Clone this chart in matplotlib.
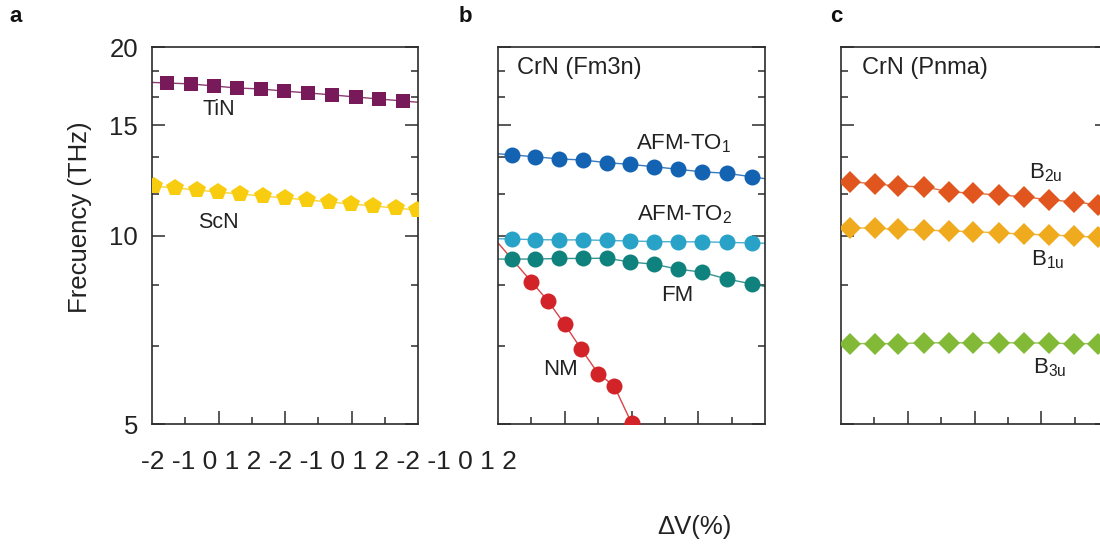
import matplotlib.pyplot as plt
import numpy as np
from matplotlib.ticker import NullFormatter

plt.rcParams['font.family'] = ['Liberation Sans', 'DejaVu Sans']
plt.rcParams['mathtext.fontset'] = 'custom'
plt.rcParams['mathtext.rm'] = 'Liberation Sans'
plt.rcParams['mathtext.it'] = 'Liberation Sans:italic'

# values, frequencies in THz, x is dV in %
# panel a
x_tin = [-1.77, -1.41, -1.07, -0.72, -0.36, -0.02, 0.35, 0.71, 1.07, 1.41, 1.77]
tin = [17.52, 17.46, 17.33, 17.20, 17.14, 17.01, 16.89, 16.77, 16.64, 16.52, 16.40]
x_scn = [-1.97, -1.65, -1.32, -1.01, -0.68, -0.33, 0.0, 0.33, 0.66, 0.99, 1.32, 1.67, 1.98]
scn = [11.99, 11.91, 11.82, 11.73, 11.65, 11.56, 11.48, 11.40, 11.31, 11.23, 11.15, 11.06, 10.98]

# panel b, CrN (Fm3n)
x_fm3n = [-1.79, -1.45, -1.08, -0.73, -0.37, -0.02, 0.33, 0.69, 1.05, 1.43, 1.80]
afm_to1 = [13.45, 13.36, 13.25, 13.20, 13.07, 12.99, 12.88, 12.76, 12.64, 12.57, 12.41]
afm_to2 = [9.87, 9.85, 9.84, 9.84, 9.82, 9.80, 9.78, 9.77, 9.77, 9.75, 9.73]
fm = [9.17, 9.17, 9.19, 9.19, 9.20, 9.07, 9.00, 8.84, 8.74, 8.52, 8.37]
x_nm = [-1.5, -1.25, -1.0, -0.75, -0.5, -0.26, 0.0]
nm = [8.44, 7.86, 7.21, 6.58, 6.02, 5.75, 5.02]

# panel c, CrN (Pnma)
x_pnma = [-1.87, -1.49, -1.14, -0.76, -0.38, -0.02, 0.36, 0.74, 1.12, 1.49, 1.85]
b2u = [12.19, 12.09, 11.99, 11.96, 11.75, 11.68, 11.61, 11.53, 11.40, 11.32, 11.19]
b1u = [10.29, 10.27, 10.23, 10.20, 10.17, 10.14, 10.10, 10.05, 10.02, 9.98, 9.93]
b3u = [6.72, 6.72, 6.72, 6.74, 6.74, 6.74, 6.74, 6.74, 6.73, 6.72, 6.72]

y_major = [5, 10, 15, 20]
y_minor = [6.67, 8.33, 11.67, 13.33, 16.67, 18.33]
x_labels = ['-2', '-1', '0', '1', '2'] * 3

dark = '#2b2b2b'


def ext_line(x, y, lo=-2.3, hi=2.3):
    # join the points and run the end segments out past the frame
    x = np.asarray(x)
    ly = np.log(y)
    s0 = (ly[1] - ly[0]) / (x[1] - x[0])
    s1 = (ly[-1] - ly[-2]) / (x[-1] - x[-2])
    xs = np.concatenate([[lo], x, [hi]])
    ys = np.concatenate([[ly[0] + s0 * (lo - x[0])], ly, [ly[-1] + s1 * (hi - x[-1])]])
    return xs, np.exp(ys)


def series(ax, x, y, color, marker, ms):
    lx, ly = ext_line(x, y)
    ax.plot(lx, ly, '-', color=color, lw=1.0, alpha=0.85, zorder=2)
    ax.plot(x, y, linestyle='none', marker=marker, ms=ms, color=color,
            markeredgewidth=0, zorder=3, clip_on=True)


def setup(ax, show_y=False):
    ax.set_yscale('log')
    ax.set_xlim(-2, 2)
    ax.set_ylim(5, 20)
    ax.set_yticks(y_major)
    ax.set_yticks(y_minor, minor=True)
    ax.yaxis.set_minor_formatter(NullFormatter())
    ax.set_xticks([-1, 0, 1])
    ax.set_xticks([-1.5, -0.5, 0.5, 1.5], minor=True)
    ax.tick_params(which='both', direction='in', left=True, right=True, top=False,
                   labelbottom=False, width=1.1, color=dark)
    ax.tick_params(which='major', length=9.5)
    ax.tick_params(which='minor', length=5)
    for s in ax.spines.values():
        s.set_linewidth(1.2)
        s.set_color(dark)
    if show_y:
        ax.set_yticklabels([str(v) for v in y_major])
        ax.tick_params(axis='y', which='major', labelsize=18.5, pad=10, labelcolor='#222222')
    else:
        ax.tick_params(axis='y', labelleft=False)


fig = plt.figure(figsize=(11, 5.44), dpi=100)
W = 267 / 1100
H = 377 / 544
B = 120 / 544
ax_a = fig.add_axes([152 / 1100, B, 266 / 1100, H])
ax_b = fig.add_axes([498 / 1100, B, W, H])
ax_c = fig.add_axes([841 / 1100, B, W, H])

setup(ax_a, show_y=True)
setup(ax_b)
setup(ax_c)

# panel a
series(ax_a, x_tin, tin, '#781a5a', 's', 10)
series(ax_a, x_scn, scn, '#f9cd0f', 'p', 13)
ax_a.text(-1.0, 15.9, 'TiN', fontsize=15.5, ha='center', va='center', color='#222222')
ax_a.text(-1.0, 10.5, 'ScN', fontsize=15.5, ha='center', va='center', color='#222222')
fig.text(80 / 1100, 1 - 217 / 544, 'Frecuency (THz)', fontsize=18.5, rotation=90,
         ha='center', va='center', color='#222222')

# panel b
series(ax_b, x_fm3n, afm_to1, '#1463b2', 'o', 11.5)
series(ax_b, x_fm3n, afm_to2, '#29a2c8', 'o', 11.5)
series(ax_b, x_fm3n, fm, '#0f827d', 'o', 11.5)
series(ax_b, x_nm, nm, '#d22328', 'o', 11.5)
ax_b.text(-1.72, 18.5, 'CrN (Fm3n)', fontsize=17, ha='left', va='center', color='#222222')
ax_b.text(0.78, 14.0, r'AFM-TO$_1$', fontsize=16, ha='center', va='center', color='#222222')
ax_b.text(0.80, 10.8, r'AFM-TO$_2$', fontsize=16, ha='center', va='center', color='#222222')
ax_b.text(0.68, 8.03, 'FM', fontsize=16, ha='center', va='center', color='#222222')
ax_b.text(-1.06, 6.12, 'NM', fontsize=16, ha='center', va='center', color='#222222')

# panel c
series(ax_c, x_pnma, b2u, '#e1561e', 'D', 11)
series(ax_c, x_pnma, b1u, '#f0aa1e', 'D', 11)
series(ax_c, x_pnma, b3u, '#82b937', 'D', 11)
ax_c.text(-1.69, 18.5, 'CrN (Pnma)', fontsize=17, ha='left', va='center', color='#222222')
ax_c.text(1.06, 12.6, r'B$_{\mathrm{2u}}$', fontsize=16, ha='center', va='center', color='#222222')
ax_c.text(1.09, 9.15, r'B$_{\mathrm{1u}}$', fontsize=16, ha='center', va='center', color='#222222')
ax_c.text(1.12, 6.15, r'B$_{\mathrm{3u}}$', fontsize=16, ha='center', va='center', color='#222222')

# the strip of x labels sits under panel a only
fig.text(328.5 / 1100, 1 - 462 / 544, ' '.join(x_labels), fontsize=19,
         ha='center', va='center', color='#222222')
fig.text(694.5 / 1100, 1 - 527 / 544, '\u0394V(%)', fontsize=18.5,
         ha='center', va='center', color='#222222')

for lab, px in [('a', 16), ('b', 465), ('c', 836)]:
    fig.text(px / 1100, 1 - 22 / 544, lab, fontsize=16, fontweight='bold',
             ha='center', va='baseline', color='#111111')

fig.savefig('out.png', dpi=100)
